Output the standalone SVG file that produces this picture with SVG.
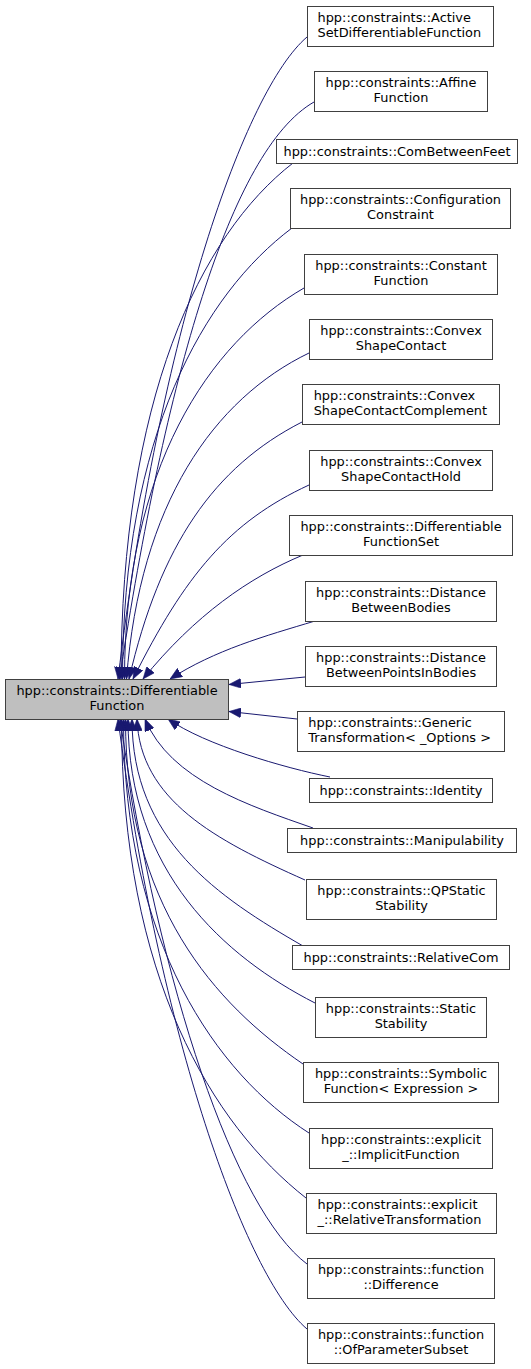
<svg xmlns="http://www.w3.org/2000/svg" width="531" height="1369" viewBox="0 0 531 1369">
<style>
.node rect{fill:#ffffff;stroke:#404040;stroke-width:1}
.base rect{fill:#bfbfbf;stroke:#404040;stroke-width:1}
text{font-family:"DejaVu Sans","Liberation Sans",sans-serif;font-size:12.9px;fill:#000000}
.c{text-anchor:middle}
.l{text-anchor:start}
.edges path{fill:none;stroke:#191970;stroke-width:1;marker-end:url(#arr)}
</style>
<defs>
<marker id="arr" markerUnits="userSpaceOnUse" markerWidth="12" markerHeight="10" refX="11" refY="4.5" orient="auto" viewBox="0 0 11 9">
<path d="M0,0 L11,4.5 L0,9 z" fill="#191970" stroke="#191970" stroke-width="0.5"/>
</marker>
</defs>
<rect width="531" height="1369" fill="#ffffff"/>
<g id="edges" class="edges">
<path d="M307,37 C245,90 160,330 118,679"/>
<path d="M314,102 C230,150 165,380 119.5,679"/>
<path d="M293,163 C200,235 121,400 121,679"/>
<path d="M292,228 C204,294 122.5,435 122.5,679"/>
<path d="M304,288 C209,343 124.5,468 124.5,679"/>
<path d="M309,353 C214,399 140,503 126.5,679"/>
<path d="M302,422 C214,467 160,545 129,679"/>
<path d="M309,485 C229,522 185,575 133,679"/>
<path d="M303,555 C250,577 195,615 143,679"/>
<path d="M315,621 C265,636 215,650 170,679"/>
<path d="M305,677 L229,684.5"/>
<path d="M297,719 L229,711.5"/>
<path d="M330,777 C285,768 205,745 168,719"/>
<path d="M313,828 C250,806 170,780 145,719"/>
<path d="M305,880 C215,840 140,800 137,719"/>
<path d="M303,946 C218,897 132,840 132,719"/>
<path d="M315,1003 C225,957 128,872 128,719"/>
<path d="M303,1064 C215,1004 125.5,905 125.5,719"/>
<path d="M309,1133 C217,1074 123.5,943 123.5,719"/>
<path d="M306,1198 C213,1125 121.5,978 121.5,719"/>
<path d="M307,1264 C235,1210 160,990 120,719"/>
<path d="M307,1329 C245,1276 160,1037 118,719"/>
</g>
<g id="base" class="base"><rect x="5.5" y="679.5" width="223" height="40"/><text class="c" x="117" y="695.2">hpp::constraints::Differentiable</text><text class="c" x="117" y="710.2">Function</text></g>
<g id="n1" class="node"><rect x="307.5" y="6.5" width="186" height="40"/><text class="l" x="317.5" y="22.2">hpp::constraints::Active</text><text class="l" x="317.5" y="37.2">SetDifferentiableFunction</text></g>
<g id="n2" class="node"><rect x="314.5" y="71.5" width="173" height="40"/><text class="c" x="401" y="87.2">hpp::constraints::Affine</text><text class="c" x="401" y="102.2">Function</text></g>
<g id="n3" class="node"><rect x="276.5" y="139.5" width="241" height="24"/><text class="c" x="397" y="155.5">hpp::constraints::ComBetweenFeet</text></g>
<g id="n4" class="node"><rect x="290.5" y="188.5" width="220" height="40"/><text class="c" x="400.5" y="204.2">hpp::constraints::Configuration</text><text class="c" x="400.5" y="219.2">Constraint</text></g>
<g id="n5" class="node"><rect x="304.5" y="254.5" width="193" height="40"/><text class="c" x="401" y="270.2">hpp::constraints::Constant</text><text class="c" x="401" y="285.2">Function</text></g>
<g id="n6" class="node"><rect x="309.5" y="319.5" width="183" height="40"/><text class="c" x="401" y="335.2">hpp::constraints::Convex</text><text class="c" x="401" y="350.2">ShapeContact</text></g>
<g id="n7" class="node"><rect x="302.5" y="384.5" width="197" height="40"/><text class="l" x="313.7" y="400.2">hpp::constraints::Convex</text><text class="l" x="313.7" y="415.2">ShapeContactComplement</text></g>
<g id="n8" class="node"><rect x="309.5" y="450.5" width="183" height="40"/><text class="c" x="401" y="466.2">hpp::constraints::Convex</text><text class="c" x="401" y="481.2">ShapeContactHold</text></g>
<g id="n9" class="node"><rect x="289.5" y="515.5" width="223" height="40"/><text class="c" x="401" y="531.2">hpp::constraints::Differentiable</text><text class="c" x="401" y="546.2">FunctionSet</text></g>
<g id="n10" class="node"><rect x="305.5" y="581.5" width="191" height="40"/><text class="c" x="401" y="597.2">hpp::constraints::Distance</text><text class="c" x="401" y="612.2">BetweenBodies</text></g>
<g id="n11" class="node"><rect x="305.5" y="646.5" width="191" height="40"/><text class="c" x="401" y="662.2">hpp::constraints::Distance</text><text class="c" x="401" y="677.2">BetweenPointsInBodies</text></g>
<g id="n12" class="node"><rect x="297.5" y="711.5" width="207" height="40"/><text class="l" x="308.3" y="727.2">hpp::constraints::Generic</text><text class="l" x="308.3" y="742.2">Transformation&lt; _Options &gt;</text></g>
<g id="n13" class="node"><rect x="309.5" y="778.5" width="183" height="24"/><text class="c" x="401" y="794.5">hpp::constraints::Identity</text></g>
<g id="n14" class="node"><rect x="287.5" y="828.5" width="229" height="24"/><text class="c" x="402" y="844.5">hpp::constraints::Manipulability</text></g>
<g id="n15" class="node"><rect x="306.5" y="879.5" width="190" height="40"/><text class="c" x="401.5" y="895.2">hpp::constraints::QPStatic</text><text class="c" x="401.5" y="910.2">Stability</text></g>
<g id="n16" class="node"><rect x="292.5" y="945.5" width="217" height="24"/><text class="c" x="401" y="961.5">hpp::constraints::RelativeCom</text></g>
<g id="n17" class="node"><rect x="315.5" y="997.5" width="171" height="40"/><text class="c" x="401" y="1013.2">hpp::constraints::Static</text><text class="c" x="401" y="1028.2">Stability</text></g>
<g id="n18" class="node"><rect x="303.5" y="1062.5" width="195" height="40"/><text class="c" x="401" y="1078.2">hpp::constraints::Symbolic</text><text class="c" x="401" y="1093.2">Function&lt; Expression &gt;</text></g>
<g id="n19" class="node"><rect x="309.5" y="1128.5" width="183" height="40"/><text class="c" x="401" y="1144.2">hpp::constraints::explicit</text><text class="c" x="401" y="1159.2">_::ImplicitFunction</text></g>
<g id="n20" class="node"><rect x="306.5" y="1193.5" width="190" height="40"/><text class="l" x="317.5" y="1209.2">hpp::constraints::explicit</text><text class="l" x="317.5" y="1224.2">_::RelativeTransformation</text></g>
<g id="n21" class="node"><rect x="307.5" y="1258.5" width="187" height="40"/><text class="c" x="401" y="1274.2">hpp::constraints::function</text><text class="c" x="401" y="1289.2">::Difference</text></g>
<g id="n22" class="node"><rect x="307.5" y="1323.5" width="187" height="40"/><text class="c" x="401" y="1339.2">hpp::constraints::function</text><text class="c" x="401" y="1354.2">::OfParameterSubset</text></g>
</svg>
